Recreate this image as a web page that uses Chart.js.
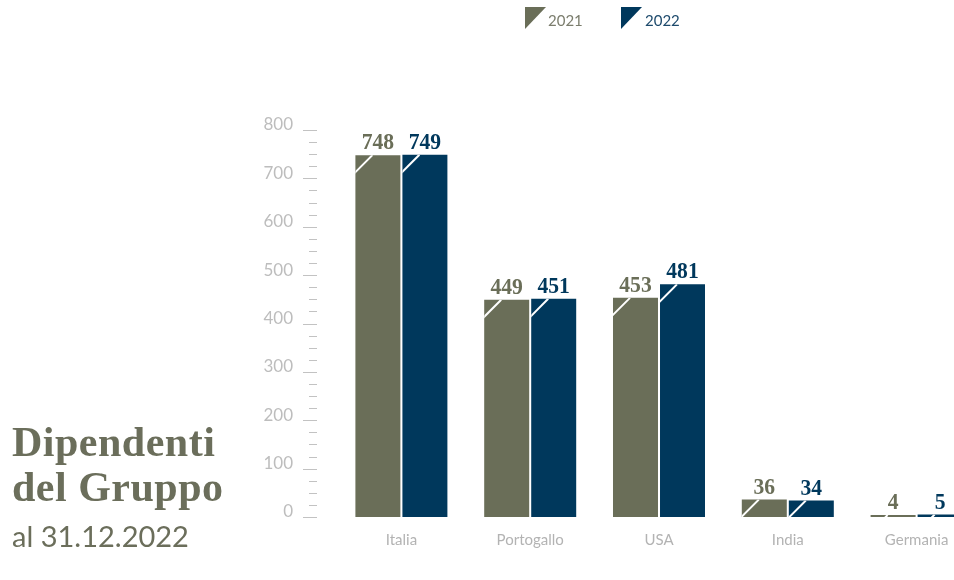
<!DOCTYPE html>
<html>
<head>
<meta charset="utf-8">
<script src="https://cdn.jsdelivr.net/npm/chart.js@4"></script>
<style>
    html, body { margin: 0; padding: 0; background: #fff; }
    body { width: 954px; height: 580px; overflow: hidden; position: relative; }
    #chart { position: absolute; left: 0; top: 0; }
    .leg-icon { position: absolute; top: 7px; width: 21px; height: 22px; clip-path: polygon(0 0, 100% 0, 0 100%); }
    .leg-text { position: absolute; top: 13px; font: 15px Lato, sans-serif; line-height: 15px; }
    #title { position: absolute; left: 12px; top: 420px; font: bold 42px "Liberation Serif", serif; line-height: 45px; color: #6b6e5b; letter-spacing: 0.5px; }
    #subtitle { position: absolute; left: 12px; top: 521px; font: 29px Lato, sans-serif; line-height: 29px; color: #6b6e5b; }
</style>
</head>
<body>
<canvas id="chart" width="990" height="580"></canvas>

<div class="leg-icon" style="left:525px; background:#6a6e58;"></div>
<div class="leg-text" style="left:548px; color:#7b7d6d;">2021</div>
<div class="leg-icon" style="left:621px; background:#00385c;"></div>
<div class="leg-text" style="left:645px; color:#1d4a6c;">2022</div>

<div id="title">Dipendenti<br>del Gruppo</div>
<div id="subtitle">al 31.12.2022</div>

<script>
const categories = ['Italia', 'Portogallo', 'USA', 'India', 'Germania'];
const values2021 = [748, 449, 453, 36, 4];
const values2022 = [749, 451, 481, 34, 5];
const yMax = 800;
const majorStep = 100;
const minorStep = 25;

const olive = '#6a6e58';
const navy = '#00385c';

{
    const ctx = document.getElementById('chart').getContext('2d');

    const decor = {
    // tacche dell'asse y, barra obliqua e valori sopra le barre
        id: 'decor',
        afterDatasetsDraw(chart) {
            const c = chart.ctx;
            const ys = chart.scales.y;
            const left = chart.chartArea.left;

            c.save();
            c.strokeStyle = '#c2c2c2';
            c.lineWidth = 1;
            for (let v = 0; v <= yMax; v += minorStep) {
                const py = Math.round(ys.getPixelForValue(v)) + 0.5;
                const major = v % majorStep === 0;
                c.beginPath();
                c.moveTo(left - (major ? 34 : 28), py);
                c.lineTo(left - 20, py);
                c.stroke();
            }
            c.restore();

            chart.data.datasets.forEach((ds, i) => {
                const meta = chart.getDatasetMeta(i);
                meta.data.forEach((bar, j) => {
                    const { x, y, base, width } = bar.getProps(['x', 'y', 'base', 'width'], true);
                    const bl = x - width / 2;
                    // barra obliqua bianca
                    c.save();
                    c.beginPath();
                    c.rect(bl, y, width, base - y);
                    c.clip();
                    c.strokeStyle = '#fff';
                    c.lineWidth = 2;
                    c.beginPath();
                    c.moveTo(bl - 1, y + 18);
                    c.lineTo(bl + 17, y);
                    c.stroke();
                    c.restore();
                    // valore
                    c.save();
                    c.fillStyle = ds.backgroundColor;
                    c.font = 'bold 24px "Liberation Serif", serif';
                    c.textAlign = 'center';
                    c.textBaseline = 'alphabetic';
                    c.translate(x, y - 6);
                    c.scale(0.9, 1);
                    c.fillText(String(ds.data[j]), 0, 0);
                    c.restore();
                });
            });
        },
    };

    new Chart(ctx, {
        type: 'bar',
        data: {
            labels: categories,
            datasets: [
                {
                    label: '2021',
                    data: values2021,
                    backgroundColor: olive,
                    categoryPercentage: 0.73,
                    barPercentage: 0.957,
                },
                {
                    label: '2022',
                    data: values2022,
                    backgroundColor: navy,
                    categoryPercentage: 0.73,
                    barPercentage: 0.957,
                },
            ],
        },
        options: {
            responsive: false,
            animation: false,
            layout: {
                padding: { top: 130, right: 9, bottom: 17, left: 0 },
            },
            plugins: {
                legend: { display: false },
                tooltip: { enabled: false },
            },
            scales: {
                x: {
                    grid: { display: false, drawTicks: false },
                    border: { display: false },
                    ticks: {
                        color: '#b3b3b3',
                        font: { family: 'Lato', size: 15 },
                        padding: 14,
                    },
                },
                y: {
                    min: 0,
                    max: yMax,
                    grid: { display: false, drawTicks: false },
                    border: { display: false },
                    ticks: {
                        stepSize: majorStep,
                        color: '#bdbdbd',
                        font: { family: 'Lato', size: 17 },
                        padding: 44,
                        labelOffset: -5,
                    },
                    afterFit(scale) {
                        scale.width = 337;
                    },
                },
            },
        },
        plugins: [decor],
    });
}
</script>
</body>
</html>
